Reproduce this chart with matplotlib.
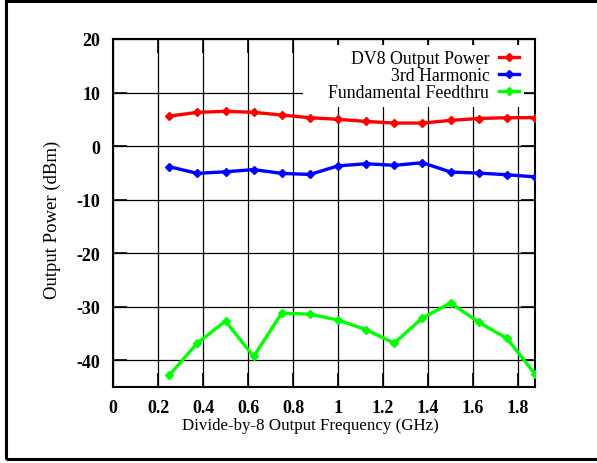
import matplotlib
matplotlib.use("Agg")
import matplotlib.pyplot as plt
from matplotlib.patches import Rectangle

freq = [0.25, 0.375, 0.5, 0.625, 0.75, 0.875, 1.0, 1.125, 1.25, 1.375, 1.5, 1.625, 1.75, 1.875]
dv8_power = [5.6, 6.3, 6.5, 6.3, 5.8, 5.3, 5.0, 4.6, 4.3, 4.3, 4.8, 5.15, 5.3, 5.3]
third_harm = [-3.85, -5.1, -4.8, -4.4, -5.1, -5.3, -3.7, -3.3, -3.6, -3.1, -4.85, -5.05, -5.35, -5.75]
fund_feed = [-42.8, -36.8, -32.7, -39.3, -31.2, -31.4, -32.5, -34.3, -36.8, -32.1, -29.3, -32.9, -35.9, -42.6]

xticks = [0, 0.2, 0.4, 0.6, 0.8, 1.0, 1.2, 1.4, 1.6, 1.8]
xticklabels = ["0", "0.2", "0.4", "0.6", "0.8", "1", "1.2", "1.4", "1.6", "1.8"]
yticks = [-40, -30, -20, -10, 0, 10, 20]

plt.rcParams['font.family'] = ['Liberation Serif', 'DejaVu Serif']
plt.rcParams['axes.unicode_minus'] = False

W, H = 597, 464
L, R, T, B = 113, 535, 40, 388
fig = plt.figure(figsize=(W/100, H/100), dpi=100)
ax = fig.add_axes([L/W, 1 - B/H, (R - L)/W, (B - T)/H])

# outer canvas border
fig.patches.append(Rectangle((6/W, 1 - 460/H), 1.2, (460 - 1.5)/H,
                             transform=fig.transFigure, fill=False,
                             edgecolor='black', linewidth=2.2, zorder=0))

kw = dict(linewidth=2.4, marker='D', markersize=4.5, zorder=3)
ax.plot(freq, dv8_power, color='#ff0000', label='DV8 Output Power', **kw)
ax.plot(freq, third_harm, color='#0000ff', label='3rd Harmonic', **kw)
ax.plot(freq, fund_feed, color='#00ff00', label='Fundamental Feedthru', **kw)

ax.set_xlim(0, 1.875)
ax.set_ylim(-45, 20)
ax.set_xticks(xticks)
ax.set_xticklabels(xticklabels)
ax.set_yticks(yticks)
ax.grid(True, color='black', linewidth=0.9)
ax.set_axisbelow(True)
ax.tick_params(direction='in', length=10, width=1.2, top=True, right=True,
               labelsize=13, pad=9)
for lab in ax.get_xticklabels() + ax.get_yticklabels():
    lab.set_fontweight('bold')
for s in ax.spines.values():
    s.set_linewidth(1.5)

ax.set_xlabel('Divide-by-8 Output Frequency (GHz)', fontsize=12.2)
ax.xaxis.set_label_coords((310.5 - L)/(R - L), -(418 - B)/(B - T))
ax.set_ylabel('Output Power (dBm)', fontsize=13.5)
ax.yaxis.set_label_coords(-(L - 61)/(R - L), 1 - (219.5 - T)/(B - T))

# white key area (hides grid lines behind the key, like the original)
ax.add_patch(Rectangle(((303 - L)/(R - L), 1 - (97 - T)/(B - T)),
                       (524 - 303)/(R - L), (97 - 46)/(B - T),
                       transform=ax.transAxes, facecolor='white',
                       edgecolor='none', zorder=2))

leg = ax.legend(loc='upper right', bbox_to_anchor=(0.974, 0.983),
                markerfirst=False, fontsize=12.8,
                frameon=True, fancybox=False, framealpha=1,
                edgecolor='none', facecolor='white',
                handlelength=1.1, handletextpad=0.55, labelspacing=0.0,
                borderaxespad=0.0, borderpad=0.3)
leg.set_zorder(5)

fig.savefig('out.png', dpi=100)
